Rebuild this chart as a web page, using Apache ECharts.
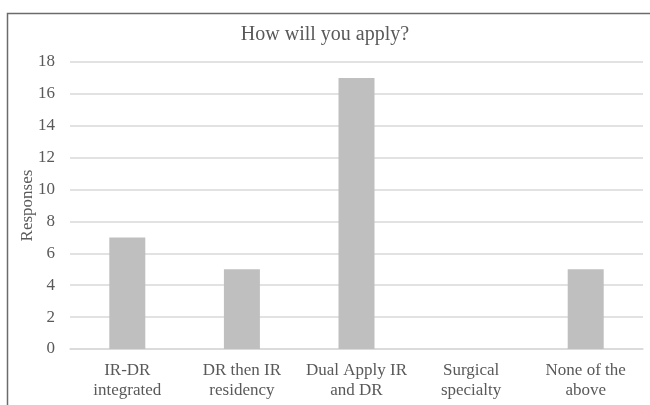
<!DOCTYPE html>
<html>
<head>
<meta charset="utf-8">
<script src="https://cdn.jsdelivr.net/npm/echarts@6/dist/echarts.min.js"></script>
<style>
  html, body { margin: 0; padding: 0; background: #fff; }
  #chartImg { width: 650px; height: 405px; }
</style>
</head>
<body>
<div id="chartImg"></div>
<script>
var categories = ["IR-DR\nintegrated", "DR then IR\nresidency", "Dual Apply IR\nand DR", "Surgical\nspecialty", "None of the\nabove"];
var responses = [7, 5, 17, 0, 5];
var yTicks = { min: 0, max: 18, step: 2 };

var font = '"Liberation Serif", "DejaVu Serif", serif';
var myChart = echarts.init(document.getElementById('chartImg'));
var option = {
    animation: false,
    title: {
        text: 'How will you apply?',
        left: 'center',
        top: 20,
        textStyle: { fontFamily: font, fontSize: 20, fontWeight: 'normal', color: '#595959' }
    },
    graphic: [{
        type: 'rect',
        shape: { x: 7.5, y: 13.5, width: 700, height: 500 },
        style: { fill: 'none', stroke: '#6b6b6b', lineWidth: 1.5 },
        silent: true
    }],
    grid: { left: 70, right: 7, top: 62, bottom: 56 },
    xAxis: {
        type: 'category',
        data: categories,
        axisLine: { lineStyle: { color: '#d9d9d9', width: 1.5 } },
        axisTick: { show: false },
        axisLabel: { fontFamily: font, fontSize: 17, color: '#595959', lineHeight: 20, margin: 12, interval: 0 }
    },
    yAxis: {
        type: 'value',
        min: yTicks.min,
        max: yTicks.max,
        interval: yTicks.step,
        name: 'Responses',
        nameLocation: 'middle',
        nameGap: 34,
        nameMoveOverlap: false,
        nameTextStyle: { fontFamily: font, fontSize: 17, color: '#595959' },
        axisLine: { show: false },
        axisTick: { show: false },
        axisLabel: { fontFamily: font, fontSize: 17, color: '#595959', margin: 15 },
        splitLine: { lineStyle: { color: '#d9d9d9', width: 1.5 } }
    },
    series: [{
        type: 'bar',
        data: responses,
        barWidth: 36,
        itemStyle: { color: '#bfbfbf' }
    }]
};
myChart.setOption(option);
</script>
</body>
</html>
